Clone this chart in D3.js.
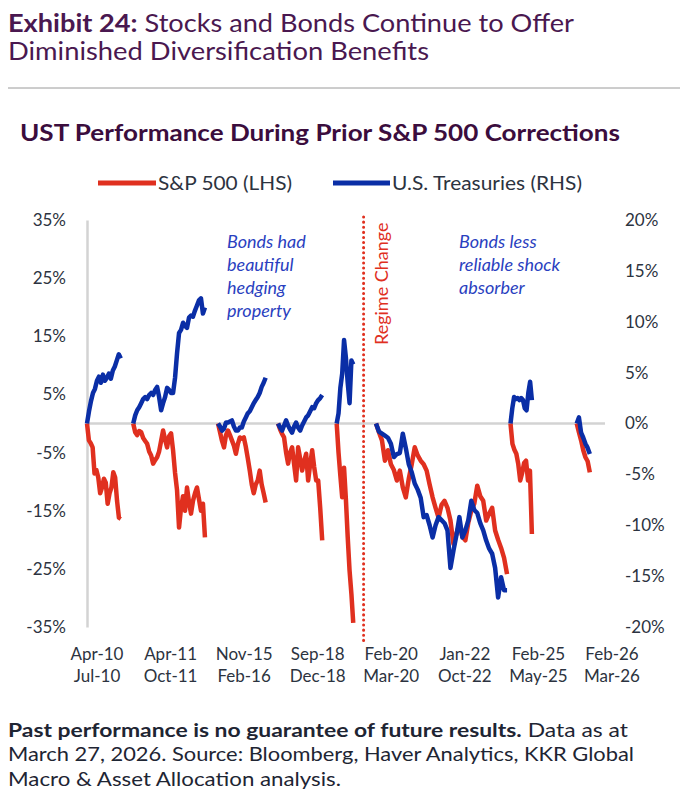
<!DOCTYPE html>
<html lang="en">
<head>
  <meta charset="utf-8">
  <script src="https://d3js.org/d3.v7.min.js"></script>
  <style>
    body { margin: 0; background: #fff; }
    svg text { font-family: Lato, "Open Sans", sans-serif; }
  </style>
</head>
<body>
  <div id="my_dataviz"></div>
  <script>
    // episode labels (start / end of each correction)
    const startLabels = ["Apr-10", "Apr-11", "Nov-15", "Sep-18", "Feb-20", "Jan-22", "Feb-25", "Feb-26"];
    const endLabels   = ["Jul-10", "Oct-11", "Feb-16", "Dec-18", "Mar-20", "Oct-22", "May-25", "Mar-26"];

    // position of each episode on the compressed trading-day axis, and its length
    const episodeStart = [0, 67, 190, 277, 362, 419, 614, 710];
    const episodeDays  = [49, 104, 69, 64, 24, 190, 31, 19];
    const totalDays = 751;
    const regimeDay = 401;

    // S&P 500 drawdown, % (LHS)
    const spx10 = [0, -2.9, -3.4, -4.1, -8.6, -8.0, -9.3, -12.0, -11.0, -9.5, -10.2, -13.8, -12.0, -11.0, -8.4, -9.3, -13.3, -16.2, -16.4];
    const spx11 = [0, -1.5, -2.0, -1.3, -1.5, -2.5, -3.0, -3.5, -4.8, -5.5, -6.9, -6.3, -5.8, -4.8, -3.0, -1.2, -2.8, -4.1, -2.2, -1.7,
                   -4.6, -8.5, -11.5, -17.9, -14.5, -12.5, -15.0, -11.0, -13.5, -15.5, -13.3, -12.0, -11.0, -13.0, -15.0, -13.8, -19.6];
    const spx15 = [0, -1.5, -3.0, -4.1, -2.0, -1.2, -2.0, -2.9, -3.8, -5.2, -3.5, -2.4, -2.6, -2.4, -4.0, -6.0, -8.1, -10.5, -12.0,
                   -10.5, -9.8, -8.1, -10.5, -12.0, -13.6];
    const spx18 = [0, -1.0, -1.8, -2.4, -5.0, -6.9, -5.0, -4.1, -7.0, -9.8, -4.1, -6.0, -8.1, -6.5, -5.2, -9.8, -7.0, -4.6, -7.5,
                   -9.8, -9.8, -14.5, -20.1];
    const spx20 = [0, -5.0, -9.0, -12.7, -7.6, -13.0, -19.6, -25.3, -29.3, -34.3];
    const spx22 = [0, -1.5, -2.9, -6.4, -4.6, -7.0, -8.0, -9.8, -8.1, -11.0, -12.7, -9.5, -7.0, -4.1, -5.5, -6.4, -7.0, -8.1, -10.5,
                   -12.7, -14.5, -16.2, -14.0, -13.3, -14.5, -16.7, -20.7, -19.0, -17.2, -19.5, -20.1, -17.0, -15.0, -13.8, -10.7,
                   -12.5, -13.3, -16.7, -15.5, -14.5, -18.4, -20.0, -21.4, -23.1, -25.9];
    const spx25 = [0, -3.5, -4.5, -5.2, -7.0, -9.8, -8.5, -6.8, -6.4, -9.8, -8.1, -19.0];
    const spx26 = [0, -1.5, -2.9, -4.6, -5.8, -6.5, -8.4];

    // U.S. Treasuries total return, % (RHS)
    const ust10 = [0, 1.2, 2.2, 3.0, 3.4, 4.2, 4.6, 4.0, 4.8, 4.2, 4.5, 4.9, 4.4, 5.2, 5.6, 6.2, 6.8, 6.4];
    const ust11 = [0, 0.8, 1.3, 1.6, 2.0, 2.4, 2.6, 2.4, 2.8, 3.0, 2.8, 3.3, 3.6, 2.6, 1.3, 2.0, 2.6, 3.5, 3.3, 3.0,
                   3.0, 4.5, 6.9, 8.9, 9.2, 9.9, 9.6, 9.4, 10.4, 10.6, 10.5, 11.1, 11.6, 12.1, 12.3, 10.8, 11.4];
    const ust15 = [0, -0.3, -0.7, -0.5, 0.1, 0.1, 0.2, 0.3, -0.3, -0.7, -0.7, -0.4, -0.4, 0.2, 0.6, 1.0, 1.2, 1.6, 2.0,
                   2.3, 2.6, 3.0, 3.6, 4.0, 4.5];
    const ust18 = [0, -0.4, -0.7, -0.2, 0.3, -0.2, -0.6, -0.9, -0.3, 0.1, -0.4, -0.7, -0.2, 0.2, 0.6, 0.8, 1.2, 1.6, 1.5,
                   2.0, 2.3, 2.5, 2.8];
    const ust20 = [0, 1.0, 3.5, 4.9, 8.2, 6.5, 4.0, 2.0, 6.2, 5.8];
    const ust22 = [0, -0.8, -1.0, -1.2, -1.4, -2.0, -3.3, -3.0, -2.9, -1.0, -2.4, -4.0, -4.8, -5.9, -6.5, -7.3, -9.2, -9.0, -10.0,
                   -11.2, -10.0, -9.2, -9.5, -9.8, -10.5, -14.2, -12.5, -11.0, -9.2, -11.2, -10.5, -9.5, -7.6, -8.5, -8.8,
                   -9.8, -10.5, -11.5, -12.3, -12.8, -14.2, -17.1, -15.1, -16.4, -16.4];
    const ust25 = [0, 1.5, 2.6, 2.4, 2.5, 2.3, 2.5, 2.3, 1.5, 1.3, 3.0, 4.1, 2.3];
    const ust26 = [0, 0.6, -0.9, -1.4, -2.0, -2.4, -3.0];

    const spx = [spx10, spx11, spx15, spx18, spx20, spx22, spx25, spx26];
    const ust = [ust10, ust11, ust15, ust18, ust20, ust22, ust25, ust26];

    const leftTicks  = [35, 25, 15, 5, -5, -15, -25, -35];
    const rightTicks = [20, 15, 10, 5, 0, -5, -10, -15, -20];

    const red = "#e0301f", blue = "#0a2ea6";

    // set the dimensions and margins of the graph
    const margin = {top: 220, right: 82, bottom: 173, left: 87},
        width = 687 - margin.left - margin.right,
        height = 800 - margin.top - margin.bottom;

    const root = d3.select("#my_dataviz")
      .append("svg")
        .attr("width", 687)
        .attr("height", 800);

    // ---- titles ----
    const title = root.append("text")
      .attr("x", 8).attr("y", 32)
      .attr("fill", "#4a1850")
      .style("font-size", "25px")
      .attr("textLength", 566)
      .attr("lengthAdjust", "spacingAndGlyphs");
    title.append("tspan").style("font-weight", "bold").text("Exhibit 24:");
    title.append("tspan").text(" Stocks and Bonds Continue to Offer");

    root.append("text")
      .attr("x", 8).attr("y", 60)
      .attr("fill", "#4a1850")
      .style("font-size", "25px")
      .attr("textLength", 421)
      .attr("lengthAdjust", "spacingAndGlyphs")
      .text("Diminished Diversification Benefits");

    root.append("line")
      .attr("x1", 8).attr("x2", 680)
      .attr("y1", 88).attr("y2", 88)
      .attr("stroke", "#9a9a9a").attr("stroke-width", 1);

    root.append("text")
      .attr("x", 20).attr("y", 141)
      .attr("fill", "#3b0d3d")
      .style("font-size", "22px")
      .style("font-weight", "bold")
      .attr("textLength", 600)
      .attr("lengthAdjust", "spacingAndGlyphs")
      .text("UST Performance During Prior S&P 500 Corrections");

    // ---- legend ----
    const legend = [
      {label: "S&P 500 (LHS)", color: red, x1: 98, x2: 156, len: 134},
      {label: "U.S. Treasuries (RHS)", color: blue, x1: 333, x2: 390, len: 190}
    ];
    legend.forEach(l => {
      root.append("line")
        .attr("x1", l.x1).attr("x2", l.x2)
        .attr("y1", 183).attr("y2", 183)
        .attr("stroke", l.color).attr("stroke-width", 5);
      root.append("text")
        .attr("x", l.x2 + 2).attr("y", 190)
        .attr("fill", "#2c3340")
        .style("font-size", "19.5px")
        .attr("textLength", l.len)
        .attr("lengthAdjust", "spacingAndGlyphs")
        .text(l.label);
    });

    // ---- chart ----
    const svg = root.append("g")
      .attr("transform", `translate(${margin.left},${margin.top})`);

    const x = d3.scaleLinear().domain([0, totalDays]).range([0, width]);
    const yL = d3.scaleLinear().domain([-35, 35]).range([height, 0]);
    const yR = d3.scaleLinear().domain([-20, 20]).range([height, 0]);

    // zero line
    svg.append("line")
      .attr("x1", 0).attr("x2", width)
      .attr("y1", yL(0)).attr("y2", yL(0))
      .attr("stroke", "#d3d3d3").attr("stroke-width", 2.5);

    // Left axis
    const axL = svg.append("g")
      .call(d3.axisLeft(yL).tickValues(leftTicks).tickSize(0).tickSizeOuter(0).tickPadding(21)
        .tickFormat(d => d + "%"));
    axL.select(".domain").attr("stroke", "#d3d3d3").attr("stroke-width", 2.5);
    axL.selectAll("text").style("font-size", "17px").attr("fill", "#2c3340")
      .style("font-family", "Lato, sans-serif");

    // Right axis
    const axR = svg.append("g")
      .attr("transform", `translate(${width},0)`)
      .call(d3.axisRight(yR).tickValues(rightTicks).tickSize(0).tickPadding(20)
        .tickFormat(d => d + "%"));
    axR.select(".domain").remove();
    axR.selectAll("text").style("font-size", "17px").attr("fill", "#2c3340")
      .style("font-family", "Lato, sans-serif");

    // regime change marker
    svg.append("line")
      .attr("x1", x(regimeDay)).attr("x2", x(regimeDay))
      .attr("y1", -3).attr("y2", height + 15)
      .attr("stroke", red).attr("stroke-width", 3)
      .attr("stroke-linecap", "round")
      .attr("stroke-dasharray", "0.1 5");

    svg.append("text")
      .attr("transform", `translate(${x(regimeDay) + 24},${yL(13.5)}) rotate(-90)`)
      .attr("fill", red)
      .style("font-size", "18px")
      .text("Regime Change");

    // lines: S&P first, Treasuries on top
    const lineFor = (scale, i) => d3.line()
      .x((d, j, arr) => x(episodeStart[i] + j * episodeDays[i] / (arr.length - 1)))
      .y(d => scale(d));

    spx.forEach((s, i) => {
      svg.append("path")
        .datum(s)
        .attr("fill", "none")
        .attr("stroke", red)
        .attr("stroke-width", 4.5)
        .attr("stroke-linejoin", "round")
        .attr("d", lineFor(yL, i));
    });
    ust.forEach((s, i) => {
      svg.append("path")
        .datum(s)
        .attr("fill", "none")
        .attr("stroke", blue)
        .attr("stroke-width", 4.5)
        .attr("stroke-linejoin", "round")
        .attr("d", lineFor(yR, i));
    });

    // annotations
    const notes = [
      {lines: ["Bonds had", "beautiful", "hedging", "property"], x: 140},
      {lines: ["Bonds less", "reliable shock", "absorber"], x: 372}
    ];
    notes.forEach(n => {
      n.lines.forEach((t, k) => {
        svg.append("text")
          .attr("x", n.x).attr("y", 28 + k * 23)
          .attr("fill", "#2a3fc0")
          .style("font-size", "18px")
          .style("font-style", "italic")
          .text(t);
      });
    });

    // X labels (start / end of each episode)
    const xLab = d3.scalePoint().domain(startLabels).range([10, 525]);
    startLabels.forEach((s, i) => {
      svg.append("text")
        .attr("x", xLab(s)).attr("y", 440)
        .attr("text-anchor", "middle")
        .attr("fill", "#2c3340")
        .style("font-size", "17px")
        .text(s);
      svg.append("text")
        .attr("x", xLab(s)).attr("y", 462)
        .attr("text-anchor", "middle")
        .attr("fill", "#2c3340")
        .style("font-size", "17px")
        .text(endLabels[i]);
    });

    // ---- footer ----
    const f1 = root.append("text")
      .attr("x", 8).attr("y", 737)
      .attr("fill", "#1e2533")
      .style("font-size", "19px")
      .attr("textLength", 620)
      .attr("lengthAdjust", "spacingAndGlyphs");
    f1.append("tspan").style("font-weight", "bold").text("Past performance is no guarantee of future results.");
    f1.append("tspan").text(" Data as at");

    root.append("text")
      .attr("x", 8).attr("y", 761)
      .attr("fill", "#1e2533")
      .style("font-size", "19px")
      .attr("textLength", 626)
      .attr("lengthAdjust", "spacingAndGlyphs")
      .text("March 27, 2026. Source: Bloomberg, Haver Analytics, KKR Global");

    root.append("text")
      .attr("x", 8).attr("y", 786)
      .attr("fill", "#1e2533")
      .style("font-size", "19px")
      .attr("textLength", 333)
      .attr("lengthAdjust", "spacingAndGlyphs")
      .text("Macro & Asset Allocation analysis.");
  </script>
</body>
</html>
